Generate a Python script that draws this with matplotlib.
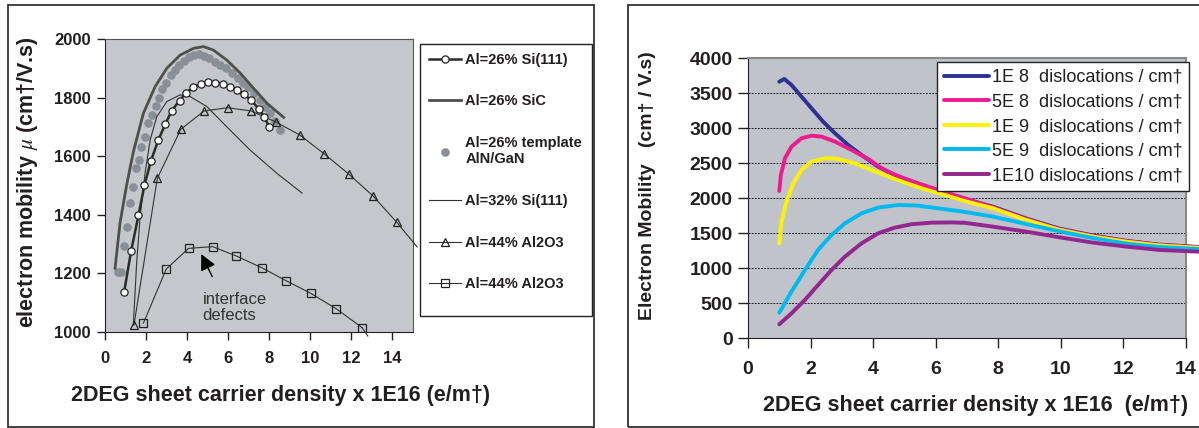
import matplotlib
matplotlib.use("Agg")
import matplotlib.pyplot as plt
from matplotlib.patches import Rectangle

plt.rcParams['font.family'] = ['Liberation Sans', 'DejaVu Sans']
plt.rcParams['mathtext.fontset'] = 'stix'

# ---------------- Left panel data ----------------
si26_x = [0.93, 1.27, 1.63, 1.92, 2.24, 2.60, 2.94, 3.25, 3.63, 3.95, 4.31, 4.67, 5.02, 5.38, 5.74, 6.08, 6.42, 6.78, 7.12, 7.48, 7.75, 8.01]
si26_y = [1135, 1275, 1398, 1501, 1585, 1656, 1710, 1756, 1790, 1817, 1836, 1847, 1853, 1852, 1847, 1838, 1827, 1812, 1791, 1763, 1735, 1699]

sic_x = [0.49, 0.73, 1.05, 1.38, 1.87, 2.44, 3.01, 3.66, 4.31, 4.80, 5.28, 5.93, 6.59, 7.24, 7.89, 8.70]
sic_y = [1217, 1371, 1500, 1615, 1747, 1838, 1901, 1946, 1969, 1975, 1963, 1929, 1884, 1832, 1781, 1733]

tmpl_x = [0.64, 0.80, 0.91, 1.09, 1.23, 1.36, 1.49, 1.65, 1.76, 1.94, 2.08, 2.29, 2.49, 2.65, 2.78, 2.97, 3.21, 3.42, 3.61,
          3.85, 4.09, 4.33, 4.57, 4.81, 5.05, 5.34, 5.61, 5.90, 6.17, 6.46, 6.73, 6.97, 7.26, 7.54, 7.78, 8.02, 8.26, 8.50]
tmpl_y = [1205, 1205, 1293, 1359, 1439, 1496, 1559, 1587, 1633, 1667, 1713, 1741, 1772, 1798, 1829, 1850, 1878, 1895, 1912,
          1927, 1938, 1946, 1949, 1943, 1935, 1924, 1912, 1901, 1884, 1867, 1850, 1836, 1815, 1792, 1770, 1747, 1722, 1690]

si32_x = [1.38, 1.54, 1.71, 1.95, 2.20, 2.52, 3.01, 3.66, 4.15, 4.96, 5.93, 7.07, 8.40, 9.60]
si32_y = [1023, 1234, 1393, 1542, 1656, 1735, 1787, 1810, 1804, 1770, 1701, 1621, 1540, 1474]

tri_x = [1.41, 2.55, 3.69, 4.83, 5.97, 7.11, 8.33, 9.48, 10.68, 11.87, 13.04, 14.21]
tri_y = [1023, 1525, 1692, 1755, 1766, 1755, 1717, 1673, 1608, 1539, 1465, 1374]
tri_end_x = [14.21, 15.2]
tri_end_y = [1374, 1290]

sq_x = [1.87, 2.98, 4.07, 5.24, 6.39, 7.63, 8.83, 10.03, 11.27, 12.52]
sq_y = [1029, 1214, 1285, 1291, 1259, 1219, 1174, 1131, 1078, 1014]
sq_end_x = [12.52, 12.8]
sq_end_y = [1014, 985]

left_labels = ['Al=26% Si(111)', 'Al=26% SiC', 'Al=26% template\nAlN/GaN', 'Al=32% Si(111)', 'Al=44% Al2O3', 'Al=44% Al2O3']
left_xticks = [0, 2, 4, 6, 8, 10, 12, 14]
left_yticks = [1000, 1200, 1400, 1600, 1800, 2000]

# ---------------- Right panel data ----------------
b_x = [1.0, 1.16, 1.39, 1.71, 2.03, 2.40, 2.78, 3.20, 3.63, 4.16, 4.69, 5.22, 5.86, 6.50, 6.93, 7.83, 8.89, 9.95, 11.02, 12.09, 13.15, 14.4]
b_y = [3666, 3705, 3619, 3452, 3286, 3095, 2929, 2762, 2619, 2452, 2333, 2238, 2143, 2048, 1990, 1880, 1712, 1567, 1470, 1392, 1338, 1305]

m_x = [1.0, 1.05, 1.18, 1.39, 1.71, 2.03, 2.35, 2.78, 3.31, 3.84, 4.37, 4.90, 5.44, 6.07, 6.93, 7.83, 8.89, 9.95, 11.02, 12.09, 13.15, 14.4]
m_y = [2105, 2333, 2571, 2738, 2857, 2895, 2881, 2810, 2690, 2562, 2400, 2300, 2215, 2120, 2000, 1872, 1704, 1560, 1464, 1388, 1334, 1301]

y_x = [1.0, 1.07, 1.23, 1.45, 1.71, 2.03, 2.46, 2.88, 3.41, 3.95, 4.49, 5.01, 5.65, 6.29, 6.93, 7.83, 8.89, 9.95, 11.02, 12.09, 13.15, 14.4]
y_y = [1357, 1667, 1952, 2214, 2405, 2524, 2571, 2562, 2500, 2405, 2310, 2224, 2129, 2048, 1960, 1858, 1692, 1550, 1454, 1380, 1326, 1293]

c_x = [1.0, 1.39, 1.82, 2.24, 2.67, 3.10, 3.63, 4.16, 4.80, 5.44, 6.07, 6.61, 6.93, 7.83, 8.89, 9.95, 11.02, 12.09, 13.15, 14.4]
c_y = [367, 667, 976, 1262, 1476, 1643, 1786, 1867, 1905, 1895, 1857, 1825, 1805, 1738, 1633, 1529, 1433, 1352, 1305, 1276]

p_x = [1.0, 1.39, 1.82, 2.24, 2.67, 3.10, 3.63, 4.16, 4.69, 5.22, 5.86, 6.50, 6.93, 7.83, 8.89, 9.95, 11.02, 12.09, 13.15, 14.4]
p_y = [200, 357, 548, 762, 976, 1167, 1357, 1500, 1581, 1629, 1652, 1655, 1650, 1595, 1524, 1443, 1367, 1310, 1262, 1238]

right_labels = ['1E 8  dislocations / cm\u2020', '5E 8  dislocations / cm\u2020', '1E 9  dislocations / cm\u2020',
                '5E 9  dislocations / cm\u2020', '1E10 dislocations / cm\u2020']
right_colors = ['#2E3192', '#EC1C8C', '#FFF200', '#00B9F1', '#92278F']
right_xticks = [0, 2, 4, 6, 8, 10, 12, 14]
right_yticks = [0, 500, 1000, 1500, 2000, 2500, 3000, 3500, 4000]

W, H = 1199, 428
fig = plt.figure(figsize=(W / 100, H / 100), dpi=100)
fig.patch.set_facecolor('white')

def fx(px):
    return px / W

def fy(py):
    return 1 - py / H

# outer frames
fig.patches.append(Rectangle((fx(8), fy(427)), fx(594) - fx(8), fy(5) - fy(427), transform=fig.transFigure,
                             fill=False, edgecolor='#333333', lw=1.3, zorder=0))
fig.patches.append(Rectangle((fx(628), fy(427)), fx(1230) - fx(628), fy(5) - fy(427), transform=fig.transFigure,
                             fill=False, edgecolor='#333333', lw=1.3, zorder=0))

txtc = '#231F20'

# ---------------- Left axes ----------------
axL = fig.add_axes([fx(105), fy(331.7), fx(413) - fx(105), fy(39.3) - fy(331.7)])
axL.set_facecolor('#C5C7CD')
axL.set_xlim(0, 15)
axL.set_ylim(1000, 2000)
dark = '#333333'
h1, = axL.plot(si26_x, si26_y, '-o', color='#2b2b2b', lw=1.8, ms=5.2, mfc='white', mec='#222222', mew=0.9, zorder=5)
h2, = axL.plot(sic_x, sic_y, '-', color='#4F4F4F', lw=2.0, zorder=4)
h3, = axL.plot(tmpl_x, tmpl_y, 'o', color='#8A8F95', ms=6.2, mec='none', zorder=3)
h4, = axL.plot(si32_x, si32_y, '-', color=dark, lw=0.8, zorder=4)
h5, = axL.plot(tri_x, tri_y, '-^', color=dark, lw=0.8, ms=6, mfc='none', mec='#222222', mew=0.9, zorder=4)
axL.plot(tri_end_x, tri_end_y, '-', color=dark, lw=0.8, clip_on=False, zorder=4)
h6, = axL.plot(sq_x, sq_y, '-s', color=dark, lw=0.8, ms=6, mfc='none', mec='#222222', mew=0.9, zorder=4)
axL.plot(sq_end_x, sq_end_y, '-', color=dark, lw=0.8, clip_on=False, zorder=4)

axL.annotate('', xy=(4.63, 1274), xytext=(5.28, 1180),
             arrowprops=dict(arrowstyle='-|>', color='black', lw=1.0, mutation_scale=24), zorder=6)
axL.text(4.75, 1083, 'interface\ndefects', fontsize=12, color='#333333', ha='left', va='center', linespacing=1.1)

axL.set_xticks(left_xticks)
axL.set_yticks(left_yticks)
axL.tick_params(axis='both', direction='out', length=6, width=1, colors='#222222', labelsize=12)
axL.tick_params(axis='x', pad=8)
axL.tick_params(axis='y', pad=4)
for lab in axL.get_xticklabels() + axL.get_yticklabels():
    lab.set_fontweight('bold')
    lab.set_color(txtc)
for s in ['left', 'bottom']:
    axL.spines[s].set_color('#222222')
for s in ['top', 'right']:
    axL.spines[s].set_color('#555555')

fig.text(fx(28), fy(182), 'electron mobility $\\mu$ (cm\u2020/V.s)', rotation=90, ha='center', va='center',
         fontsize=15.5, fontweight='bold', color=txtc)
fig.text(fx(281), fy(395), '2DEG sheet carrier density x 1E16 (e/m\u2020)', ha='center', va='center',
         fontsize=15.5, fontweight='bold', color=txtc)

# left legend: box drawn as its own frame, entries laid out by legend
fig.patches.append(Rectangle((fx(420), fy(316)), fx(592) - fx(420), fy(44) - fy(316), transform=fig.transFigure,
                             facecolor='white', edgecolor='#222222', lw=1.0, zorder=1))
legL = fig.legend([h1, h2, h3, h4, h5, h6], left_labels, loc='upper left',
                  bbox_to_anchor=(fx(420), fy(44)), bbox_transform=fig.transFigure,
                  frameon=False, prop={'weight': 'bold', 'size': 10.5}, labelspacing=1.9, handlelength=2.2,
                  handletextpad=0.3, borderpad=0.6, borderaxespad=0, numpoints=1)
for t in legL.get_texts():
    t.set_color(txtc)

# ---------------- Right axes ----------------
axR = fig.add_axes([fx(748), fy(338.3), fx(1186) - fx(748), fy(58.3) - fy(338.3)])
axR.set_facecolor('#C0C3CA')
axR.set_xlim(0, 14)
axR.set_ylim(0, 4000)
series = [(b_x, b_y), (m_x, m_y), (y_x, y_y), (c_x, c_y), (p_x, p_y)]
handles = []
for (xs, ys), col in zip(series, right_colors):
    h, = axR.plot(xs, ys, '-', color=col, lw=2.8, solid_capstyle='round', clip_on=False, zorder=3)
    handles.append(h)
axR.set_xticks(right_xticks)
axR.set_yticks(right_yticks)
axR.yaxis.grid(True, color='#222222', linestyle=(0, (2, 1.2)), lw=0.7)
axR.set_axisbelow(True)
axR.tick_params(axis='both', direction='out', length=7, width=1, colors='#222222', labelsize=14)
axR.tick_params(axis='x', pad=9)
axR.tick_params(axis='y', pad=4)
for lab in axR.get_xticklabels() + axR.get_yticklabels():
    lab.set_fontweight('bold')
    lab.set_color(txtc)
for s in ['left', 'bottom']:
    axR.spines[s].set_color('#222222')
for s in ['top', 'right']:
    axR.spines[s].set_color('#8A8A8A')
    axR.spines[s].set_linewidth(1.5)

fig.text(fx(648), fy(186), 'Electron Mobility   (cm\u2020 / V.s)', rotation=90, ha='center', va='center',
         fontsize=14, fontweight='bold', color=txtc)
fig.text(fx(976), fy(405), '2DEG sheet carrier density x 1E16  (e/m\u2020)', ha='center', va='center',
         fontsize=15.5, fontweight='bold', color=txtc)

legR = fig.legend(handles, right_labels, loc='upper left',
                  bbox_to_anchor=(fx(937), fy(62)), bbox_transform=fig.transFigure,
                  frameon=True, fancybox=False, edgecolor='#222222', framealpha=1,
                  prop={'size': 13}, labelspacing=0.42, handlelength=2.5,
                  handletextpad=0.15, borderpad=0.38, borderaxespad=0)
legR.get_frame().set_linewidth(1.0)
for t in legR.get_texts():
    t.set_color(txtc)

fig.savefig('out.png', dpi=100)
